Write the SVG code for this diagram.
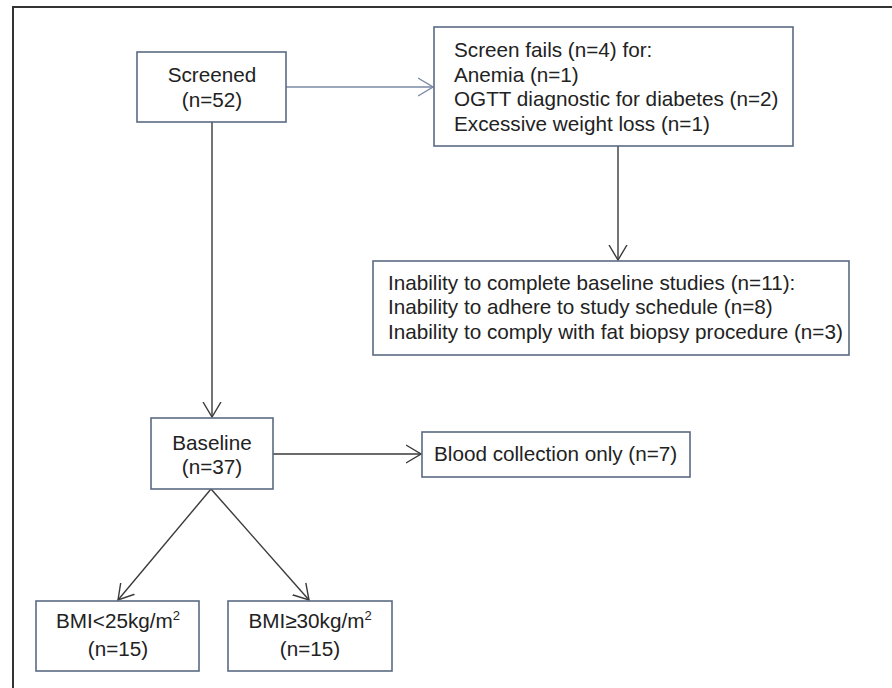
<svg xmlns="http://www.w3.org/2000/svg" width="892" height="688" viewBox="0 0 892 688">
<style>
.box{fill:#fff;stroke:#5b6a82;stroke-width:1.6}
.t{font-family:"Liberation Sans",Arial,sans-serif;font-size:20.7px;fill:#222}
.c{text-anchor:middle}
.ln{fill:none;stroke:#3a3a3a;stroke-width:1.4}
.ln2{fill:none;stroke:#7a8aa5;stroke-width:1.4}
</style>
<defs>
<marker id="ah" viewBox="0 0 16 20" refX="15" refY="10" markerWidth="16" markerHeight="20" markerUnits="userSpaceOnUse" orient="auto">
<path d="M0,1 L15,10 L0,19" fill="none" stroke="#3a3a3a" stroke-width="1.4"/>
</marker>
<marker id="ah2" viewBox="0 0 16 20" refX="15" refY="10" markerWidth="16" markerHeight="20" markerUnits="userSpaceOnUse" orient="auto">
<path d="M0,1 L15,10 L0,19" fill="none" stroke="#7a8aa5" stroke-width="1.4"/>
</marker>
</defs>
<rect x="0" y="0" width="892" height="688" fill="#fff"/>
<path d="M13,700 L13,7 L900,7" fill="none" stroke="#333" stroke-width="2"/>
<g id="connectors">
<line class="ln2" x1="286" y1="87" x2="433" y2="87" marker-end="url(#ah2)"/>
<line class="ln" x1="618" y1="146" x2="618" y2="260" marker-end="url(#ah)"/>
<line class="ln" x1="212" y1="122" x2="212" y2="417" marker-end="url(#ah)"/>
<line class="ln" x1="273" y1="454" x2="421" y2="454" marker-end="url(#ah)"/>
<line class="ln" x1="211" y1="489" x2="118" y2="600" marker-end="url(#ah)"/>
<line class="ln" x1="211" y1="489" x2="309" y2="600" marker-end="url(#ah)"/>
</g>
<g id="screened">
<rect class="box" x="137" y="52" width="149" height="70"/>
<text class="t c" x="212" y="82">Screened</text>
<text class="t c" x="212" y="107">(n=52)</text>
</g>
<g id="screenfails">
<rect class="box" x="434" y="27" width="359" height="119"/>
<text class="t" x="454" y="57">Screen fails (n=4) for:</text>
<text class="t" x="454" y="82">Anemia (n=1)</text>
<text class="t" x="454" y="106">OGTT diagnostic for diabetes (n=2)</text>
<text class="t" x="454" y="131">Excessive weight loss (n=1)</text>
</g>
<g id="inability">
<rect class="box" x="373" y="261" width="476" height="94"/>
<text class="t" x="388" y="290">Inability to complete baseline studies (n=11):</text>
<text class="t" x="388" y="314">Inability to adhere to study schedule (n=8)</text>
<text class="t" x="388" y="339">Inability to comply with fat biopsy procedure (n=3)</text>
</g>
<g id="baseline">
<rect class="box" x="151" y="418" width="122" height="71"/>
<text class="t c" x="212" y="450">Baseline</text>
<text class="t c" x="212" y="474">(n=37)</text>
</g>
<g id="blood">
<rect class="box" x="422" y="432" width="268" height="45"/>
<text class="t" x="434" y="461">Blood collection only (n=7)</text>
</g>
<g id="bmi-low">
<rect class="box" x="36" y="601" width="163" height="70"/>
<text class="t c" x="118" y="628">BMI&lt;25kg/m<tspan font-size="13" dy="-8">2</tspan></text>
<text class="t c" x="118" y="656">(n=15)</text>
</g>
<g id="bmi-high">
<rect class="box" x="228" y="601" width="164" height="70"/>
<text class="t c" x="310" y="628">BMI≥30kg/m<tspan font-size="13" dy="-8">2</tspan></text>
<text class="t c" x="310" y="656">(n=15)</text>
</g>
</svg>
